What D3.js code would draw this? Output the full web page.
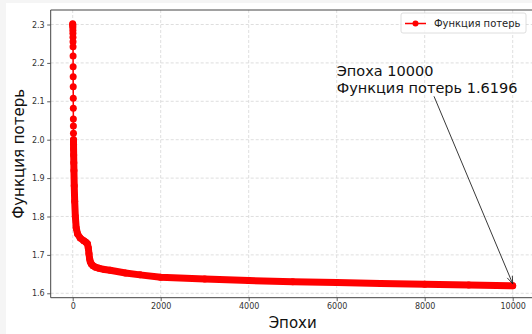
<!DOCTYPE html>
<html>
<head>
<meta charset="utf-8">
<script src="https://cdn.jsdelivr.net/npm/d3@7"></script>
<style>
body{margin:0;background:#f5f5f5;}
svg{display:block;}
text{font-family:'DejaVu Sans',sans-serif;}
</style>
</head>
<body>
<script>
// values
const epochs=[0,1,2,3,4,5,6,7,8,9,10,11,12,13,14,15,16,17,18,19,20,22,25,28,35,45,60,80,110,170,250,300,335,355,370,385,400,425,460,520,600,720,850,1200,1530,2000,3000,4000,5000,6000,7000,8000,9000,10000];
const losses=[2.302,2.300,2.297,2.292,2.285,2.277,2.267,2.255,2.242,2.218,2.190,2.164,2.138,2.108,2.082,2.054,2.036,2.017,2.000,1.988,1.976,1.960,1.940,1.920,1.880,1.840,1.800,1.770,1.755,1.744,1.737,1.733,1.729,1.718,1.703,1.690,1.682,1.676,1.672,1.668,1.665,1.662,1.660,1.653,1.648,1.642,1.637,1.633,1.630,1.628,1.6255,1.6235,1.6215,1.6196];
const xTicks=[0,2000,4000,6000,8000,10000];
const yTicks=[1.6,1.7,1.8,1.9,2.0,2.1,2.2,2.3];
const seriesName='Функция потерь';
const xLabel='Эпохи';
const yLabel='Функция потерь';
const noteLines=['Эпоха 10000','Функция потерь 1.6196'];
const notePos=[6000,2.1];

const width=532, height=334;
const plot={left:50.7,right:534.7,top:10,bot:297.7};
const data=epochs.map((e,i)=>({e:e,v:losses[i]}));

const svg=d3.select('body').append('svg').attr('width',width).attr('height',height);
svg.append('rect').attr('x',6).attr('y',3).attr('width',width-6).attr('height',height-3).attr('fill','#fff');

const x=d3.scaleLinear().domain([-500,10500]).range([plot.left,plot.right]);
const y=d3.scaleLinear().domain([1.5885,2.3378]).range([plot.bot,plot.top]);

svg.append('clipPath').attr('id','clip').append('rect')
  .attr('x',plot.left).attr('y',plot.top).attr('width',plot.right-plot.left).attr('height',plot.bot-plot.top);

// grid
const grid=svg.append('g').attr('clip-path','url(#clip)');
grid.selectAll('.gx').data(xTicks).enter().append('line')
  .attr('x1',d=>x(d)).attr('x2',d=>x(d)).attr('y1',plot.top).attr('y2',plot.bot)
  .attr('stroke','#d6d6d6').attr('stroke-width',0.8).attr('stroke-dasharray','3,2');
grid.selectAll('.gy').data(yTicks).enter().append('line')
  .attr('x1',plot.left).attr('x2',plot.right).attr('y1',d=>y(d)).attr('y2',d=>y(d))
  .attr('stroke','#d6d6d6').attr('stroke-width',0.8).attr('stroke-dasharray','3,2');

// axes
const xAxis=d3.axisBottom(x).tickValues(xTicks).tickFormat(d3.format('d')).tickSize(3.5).tickPadding(2.5);
const yAxis=d3.axisLeft(y).tickValues(yTicks).tickFormat(d3.format('.1f')).tickSize(3.5).tickPadding(2.5);
const gx=svg.append('g').attr('transform',`translate(0,${plot.bot})`).call(xAxis);
const gy=svg.append('g').attr('transform',`translate(${plot.left},0)`).call(yAxis);
[gx,gy].forEach(g=>{
  g.select('.domain').remove();
  g.selectAll('line').attr('stroke','#333').attr('stroke-width',0.8);
  g.selectAll('text').attr('fill','#333').style('font-size','8px').style('font-family',"'DejaVu Sans',sans-serif");
});

// spines
svg.append('line').attr('x1',plot.left).attr('x2',width).attr('y1',plot.top).attr('y2',plot.top).attr('stroke','#444').attr('stroke-width',1);
svg.append('line').attr('x1',plot.left).attr('x2',width).attr('y1',plot.bot).attr('y2',plot.bot).attr('stroke','#444').attr('stroke-width',1);
svg.append('line').attr('x1',plot.left).attr('x2',plot.left).attr('y1',plot.top).attr('y2',plot.bot).attr('stroke','#444').attr('stroke-width',1);

// series
const line=d3.line().x(d=>x(d.e)).y(d=>y(d.v));
const plotG=svg.append('g').attr('clip-path','url(#clip)');
plotG.append('path').datum(data).attr('d',line).attr('fill','none').attr('stroke','red').attr('stroke-width',1.5);
// dense part: markers overlap into a solid band
plotG.append('path').datum(data.filter(d=>d.e>=18)).attr('d',line).attr('fill','none')
  .attr('stroke','red').attr('stroke-width',7).attr('stroke-linecap','round').attr('stroke-linejoin','round');
plotG.selectAll('circle').data(data).enter().append('circle')
  .attr('cx',d=>x(d.e)).attr('cy',d=>y(d.v)).attr('r',3.5).attr('fill','red');

// axis labels
svg.append('text').text(xLabel).attr('x',(plot.left+plot.right)/2).attr('y',328)
  .attr('text-anchor','middle').style('font-size','15px').attr('fill','#111');
svg.append('text').text(yLabel).attr('transform',`translate(24,${(plot.top+plot.bot)/2}) rotate(-90)`)
  .attr('text-anchor','middle').style('font-size','15px').attr('fill','#111');

// annotation, one text per line
const noteG=svg.append('g').style('font-size','14.5px').attr('fill','#111');
noteG.selectAll('text').data(noteLines).enter().append('text')
  .attr('x',x(notePos[0])).attr('y',(d,i)=>y(notePos[1])-8-(noteLines.length-1-i)*17).text(d=>d);
const bb=noteG.node().getBBox();
const last=data[data.length-1];
const tx=x(last.e), ty=y(last.v)-2;
const cx=bb.x+bb.width/2, cy=bb.y+bb.height/2;
const t=(bb.y+bb.height-cy)/(ty-cy);
const sx=cx+t*(tx-cx), sy=bb.y+bb.height;
svg.append('line').attr('x1',sx).attr('y1',sy).attr('x2',tx).attr('y2',ty).attr('stroke','#222').attr('stroke-width',0.9);
const ang=Math.atan2(ty-sy,tx-sx), hl=8, hw=0.35;
svg.append('path')
  .attr('d',`M${tx-hl*Math.cos(ang-hw)},${ty-hl*Math.sin(ang-hw)}L${tx},${ty}L${tx-hl*Math.cos(ang+hw)},${ty-hl*Math.sin(ang+hw)}`)
  .attr('fill','none').attr('stroke','#222').attr('stroke-width',0.9);

// legend
const lg=svg.append('g');
lg.append('rect').attr('x',401).attr('y',13).attr('width',125).attr('height',20).attr('rx',2)
  .attr('fill','#fff').attr('fill-opacity',0.8).attr('stroke','#d6d6d6').attr('stroke-width',0.8);
lg.append('line').attr('x1',405).attr('x2',426).attr('y1',23.5).attr('y2',23.5).attr('stroke','red').attr('stroke-width',1.5);
lg.append('circle').attr('cx',415.5).attr('cy',23.5).attr('r',3).attr('fill','red');
lg.append('text').text(seriesName).attr('x',434).attr('y',27).style('font-size','10px').attr('fill','#222');
</script>
</body>
</html>
